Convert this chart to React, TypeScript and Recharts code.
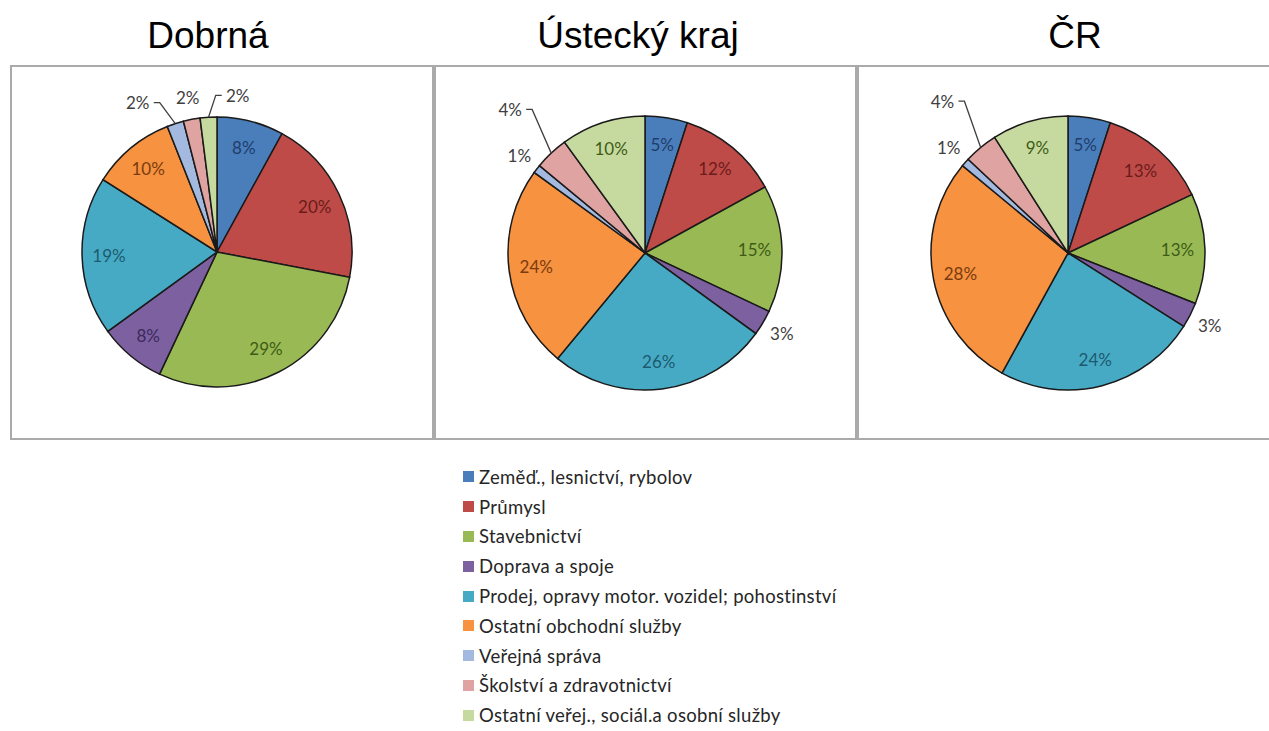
import { PieChart, Pie, Cell } from 'recharts'

const CATEGORIES = [
  'Zeměď., lesnictví, rybolov',
  'Průmysl',
  'Stavebnictví',
  'Doprava a spoje',
  'Prodej, opravy motor. vozidel; pohostinství',
  'Ostatní obchodní služby',
  'Veřejná správa',
  'Školství a zdravotnictví',
  'Ostatní veřej., sociál.a osobní služby',
]

// shares in %, same order as CATEGORIES
const DOBRNA = [8, 20, 29, 8, 19, 10, 2, 2, 2]
const USTECKY = [5, 12, 15, 3, 26, 24, 1, 4, 10]
const CR = [5, 13, 13, 3, 24, 28, 1, 4, 9]

const TITLES = ['Dobrná', 'Ústecký kraj', 'ČR']

const COLORS = ['#4a7ebb', '#be4b48', '#98b954', '#7d60a0', '#46aac5', '#f69240', '#a3b9e0', '#dfa3a2', '#c6daa0']
const TEXT_COLORS = ['#1f3d6b', '#6b1c1a', '#3f5c15', '#3b2a5c', '#1d5a6e', '#7a3b0e', '#404040', '#404040', '#3f5c15']

const LABEL_FONT = "Lato, 'Open Sans', sans-serif"
const RAD = Math.PI / 180

// small slices get their label outside; clusters are spread so they don't collide
function layoutOutside(values: number[], r: number) {
  const total = values.reduce((a, b) => a + b, 0)
  let acc = 0
  const items = values.map((v, i) => {
    const theta = ((acc + v / 2) / total) * 360
    acc += v
    return { i, theta, outside: v < 5 }
  })
  const pos: Record<number, { x: number; y: number }> = {}
  let k = 0
  while (k < items.length) {
    if (!items[k].outside) { k++; continue }
    const group: typeof items = []
    while (k < items.length && items[k].outside) { group.push(items[k]); k++ }
    const R0 = r + 22
    const base = group.map(g => ({
      i: g.i, theta: g.theta,
      x: R0 * Math.sin(g.theta * RAD),
      y: -R0 * Math.cos(g.theta * RAD),
    }))
    const n = base.length
    const meanX = base.reduce((a, b) => a + b.x, 0) / n
    const nearTop = Math.abs(meanX) < r * 0.5 && base[0].y < 0
    if (n > 1 && nearTop) {
      base.forEach((b, j) => { b.x = meanX + (j - (n - 1) / 2) * 50 })
    } else {
      base.forEach((b, j) => {
        const R = R0 + j * 38
        b.x = R * Math.sin(b.theta * RAD)
        b.y = -R * Math.cos(b.theta * RAD)
      })
    }
    base.forEach(b => { pos[b.i] = { x: b.x, y: b.y } })
  }
  return pos
}

function makeLabel(values: number[], r: number) {
  const outside = layoutOutside(values, r)
  return (props: any) => {
    const { cx, cy, midAngle, outerRadius, index, value } = props
    const cos = Math.cos(-midAngle * RAD)
    const sin = Math.sin(-midAngle * RAD)
    if (!outside[index]) {
      const rr = outerRadius * 0.8
      return (
        <text x={cx + rr * cos} y={cy + rr * sin} textAnchor="middle" dominantBaseline="central"
          fill={TEXT_COLORS[index]} fontSize={17} fontFamily={LABEL_FONT}>{value}%</text>
      )
    }
    const p = outside[index]
    const lx = cx + p.x
    const ly = cy + p.y
    const ax = cx + outerRadius * cos
    const ay = cy + outerRadius * sin
    const dist = Math.hypot(ax - lx, ay - ly)
    let line = null
    if (dist > 28) {
      const dir = ax > lx ? 1 : -1
      const sx = lx + dir * 16
      const kx = sx + dir * 6
      line = <polyline points={`${sx},${ly} ${kx},${ly} ${ax},${ay}`} fill="none" stroke="#404040" strokeWidth={1.3} />
    }
    return (
      <g>
        {line}
        <text x={lx} y={ly} textAnchor="middle" dominantBaseline="central"
          fill="#404040" fontSize={17} fontFamily={LABEL_FONT}>{value}%</text>
      </g>
    )
  }
}

interface PieBoxProps {
  values: number[]
  left: number
  width: number
  cx: number
  cy: number
  r: number
}

function PieBox({ values, left, width, cx, cy, r }: PieBoxProps) {
  const data = values.map((v, i) => ({ name: CATEGORIES[i], value: v }))
  return (
    <div style={{ position: 'absolute', left, top: 65, width, height: 375, boxSizing: 'border-box', border: '2px solid #aaaaaa' }}>
      <PieChart width={width - 4} height={371} margin={{ top: 0, right: 0, bottom: 0, left: 0 }}>
        <Pie
          data={data}
          dataKey="value"
          cx={cx}
          cy={cy}
          outerRadius={r}
          startAngle={90}
          endAngle={-270}
          stroke="#1a1a1a"
          strokeWidth={1.5}
          labelLine={false}
          label={makeLabel(values, r)}
          isAnimationActive={false}
        >
          {data.map((d, i) => <Cell key={d.name} fill={COLORS[i]} />)}
        </Pie>
      </PieChart>
    </div>
  )
}

const titleStyle = (center: number): React.CSSProperties => ({
  position: 'absolute', left: center - 150, width: 300, top: 14, textAlign: 'center',
  fontFamily: "'Liberation Sans', Arial, sans-serif", fontSize: 37, lineHeight: '44px', color: '#000',
})

export default function App() {
  return (
    <div style={{ position: 'absolute', left: 0, top: 0, width: 1269, height: 731, background: '#fff', overflow: 'hidden' }}>
      <div style={titleStyle(208)}>{TITLES[0]}</div>
      <div style={titleStyle(638)}>{TITLES[1]}</div>
      <div style={titleStyle(1075)}>{TITLES[2]}</div>

      <PieBox values={DOBRNA} left={10} width={424} cx={205} cy={185} r={135} />
      <PieBox values={USTECKY} left={434} width={423} cx={209} cy={186} r={137} />
      <PieBox values={CR} left={857} width={430} cx={209} cy={186} r={137} />

      <div style={{ position: 'absolute', left: 463, top: 462, fontFamily: LABEL_FONT, fontSize: 18.5, letterSpacing: 0.3, color: '#262626' }}>
        {CATEGORIES.map((c, i) => (
          <div key={c} style={{ display: 'flex', alignItems: 'center', height: 29.8 }}>
            <span style={{ width: 11, height: 11, background: COLORS[i], marginRight: 5, flexShrink: 0 }} />
            <span style={{ whiteSpace: 'nowrap', lineHeight: '22px' }}>{c}</span>
          </div>
        ))}
      </div>
    </div>
  )
}
